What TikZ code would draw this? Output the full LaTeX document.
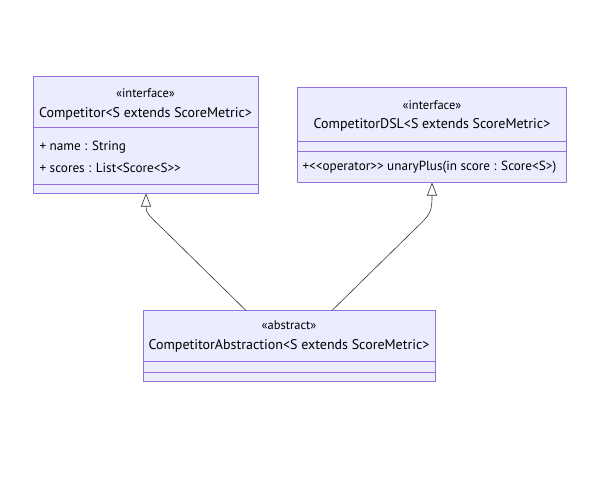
\documentclass[tikz,border=0pt]{standalone}
\usepackage{fontspec}
\setmainfont{PT Sans}
\usepackage{tikz}
\usetikzlibrary{arrows.meta,positioning}
\definecolor{boxfill}{HTML}{ECECFF}
\definecolor{boxline}{HTML}{9370DB}
\definecolor{edgeline}{HTML}{333333}

\tikzset{
  classbox/.style={draw=boxline,fill=boxfill,line width=0.9pt,inner sep=0pt},
  stereo/.style={font=\fontsize{12.5}{14}\selectfont},
  ctitle/.style={font=\fontsize{14}{16}\selectfont},
  member/.style={font=\fontsize{13.2}{15}\selectfont,anchor=west},
  realize/.style={draw=edgeline,line width=0.6pt,-{Triangle[open,length=13pt,width=10pt,fill=white]}}
}

\begin{document}
\begin{tikzpicture}[x=1pt,y=-1pt]
    \useasboundingbox (0,0) rectangle (593,490);

    % Competitor
    \node[classbox,minimum width=225pt,minimum height=117pt] (comp) at (145.5,135) {};
    \draw[boxline,line width=0.9pt] (33,127) -- (258,127);
    \draw[boxline,line width=0.9pt] (33,184) -- (258,184);
    \node[stereo] (compst) at (145.5,93) {«interface»};
    \node[ctitle] (compti) at (145.5,114) {Competitor<S extends ScoreMetric>};
    \node[member] (compa1) at (36,147) {+ name : String};
    \node[member] (compa2) at (36,168) {+ scores : List<Score<S>{}>};

    % CompetitorDSL
    \node[classbox,minimum width=269pt,minimum height=95.5pt] (dsl) at (432,134.75) {};
    \draw[boxline,line width=0.9pt] (297.5,141) -- (566.5,141);
    \draw[boxline,line width=0.9pt] (297.5,151) -- (566.5,151);
    \node[stereo] (dslst) at (432,105) {«interface»};
    \node[ctitle] (dslti) at (432,125) {CompetitorDSL<S extends ScoreMetric>};
    \node[member] (dslm1) at (299,167) {+<{}<operator>{}> unaryPlus(in score : Score<S>)};

    % CompetitorAbstraction
    \node[classbox,minimum width=292pt,minimum height=71pt] (abs) at (289,346) {};
    \draw[boxline,line width=0.9pt] (143,361) -- (435,361);
    \draw[boxline,line width=0.9pt] (143,372) -- (435,372);
    \node[stereo] (absst) at (289,325) {«abstract»};
    \node[ctitle] (absti) at (289,346) {CompetitorAbstraction<S extends ScoreMetric>};

    % Realizations
    \coordinate (absl) at (246,310.5);
    \coordinate (absr) at (332,310.5);
    \coordinate (compb) at (146,193.5);
    \coordinate (dslb) at (432,182.5);
    \draw[realize] (absl) -- (164,230) .. controls (147,214) and (146,212) .. (compb);
    \draw[realize] (absr) -- (414,230) .. controls (431,214) and (432,212) .. (dslb);
\end{tikzpicture}
\end{document}
